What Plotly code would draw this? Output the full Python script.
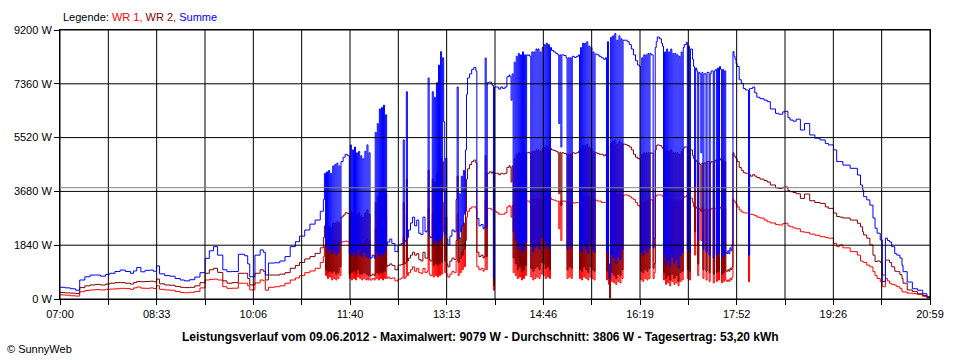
import plotly.graph_objects as go
import pandas as pd

DAY = "2012-06-09"

times = [
    # morning
    "07:00","07:05","07:10","07:15","07:19","07:24","07:29","07:34","07:39","07:44",
    "07:48","07:53","07:58","08:03","08:08","08:11","08:14","08:18","08:22","08:27",
    "08:30","08:33","08:36","08:41","08:46","08:51","08:56","09:00","09:05","09:10",
    "09:15","09:20","09:24","09:28","09:32","09:37","09:41","09:46","09:52","09:58",
    "10:01","10:03","10:08","10:13","10:16","10:18","10:21","10:27","10:32","10:37",
    "10:42","10:47","10:51","10:56","11:01","11:06","11:11","11:14",
    # cluster A
    "11:15","11:16","11:17","11:18","11:19","11:20","11:21","11:22","11:23","11:24",
    "11:25","11:26","11:27","11:28","11:29","11:30","11:31","11:33","11:35","11:37",
    # cluster B
    "11:39","11:40","11:41","11:42","11:43","11:44","11:45","11:46","11:47","11:48",
    "11:49","11:50","11:51","11:52","11:53","11:54","11:55","11:56","11:57","11:58",
    "11:59","12:01","12:03",
    "12:04","12:05","12:06","12:07","12:08","12:09","12:10","12:11","12:12","12:13","12:14","12:15",
    # midday
    "12:16","12:18","12:20","12:23","12:26","12:29","12:31","12:32","12:33","12:34",
    "12:35","12:36","12:38","12:40","12:42","12:44","12:46","12:48","12:50","12:52",
    "12:54","12:55","12:56","12:57","12:59","13:00","13:01","13:02","13:03","13:04",
    "13:05","13:06","13:07","13:08","13:09","13:10","13:11","13:12","13:13","13:14",
    "13:16","13:18","13:20","13:22","13:23","13:24","13:25","13:26","13:27","13:28",
    "13:29","13:30","13:31","13:32","13:33","13:35","13:37","13:39","13:41","13:42",
    "13:44","13:46","13:48","13:49","13:50","13:51","13:52","13:54","13:56","13:57",
    "13:58","13:59","14:01","14:03","14:05","14:07","14:09","14:11","14:13","14:14",
    "14:15","14:16","14:17","14:18","14:19",
    # afternoon clusters
    "14:20","14:21","14:22","14:23","14:24","14:25","14:26","14:27","14:28","14:29",
    "14:30","14:31","14:32","14:33","14:34","14:35","14:36","14:37","14:38","14:39",
    "14:40","14:41","14:42","14:43","14:44","14:45","14:46","14:47","14:48","14:49",
    "14:50","14:51","14:52","14:53","14:54","14:56","14:58","15:00","15:01","15:02",
    "15:03","15:04","15:06","15:08","15:09","15:10","15:11","15:12","15:13","15:14",
    "15:16","15:18","15:20","15:21","15:22","15:23","15:24","15:25","15:26","15:27",
    "15:28","15:29","15:30","15:31","15:32","15:33","15:34","15:35","15:36","15:38",
    "15:40","15:42","15:44","15:46","15:47","15:48","15:49","15:50","15:51","15:52",
    "15:53","15:54","15:55","15:56","15:57","15:58","15:59","16:00","16:01","16:02",
    "16:03","16:05","16:07","16:09","16:11","16:13","16:15","16:17","16:19",
    # late afternoon
    "16:20","16:21","16:22","16:23","16:24","16:25","16:26","16:27","16:28","16:29",
    "16:30","16:31","16:32","16:33","16:34","16:35","16:36","16:38","16:40","16:41",
    "16:42","16:43","16:44","16:45","16:46","16:47","16:48","16:49","16:50","16:51",
    "16:52","16:53","16:54","16:55","16:56","16:57","16:58","16:59","17:00","17:01",
    "17:02","17:04","17:05","17:06","17:07","17:08","17:10","17:11","17:12","17:13",
    "17:14","17:15","17:16","17:17","17:18","17:19",
    # last cluster
    "17:20","17:21","17:22","17:23","17:24","17:25","17:26","17:27","17:28","17:29",
    "17:30","17:31","17:32","17:33","17:34","17:35","17:36","17:37","17:38","17:39",
    "17:40","17:41","17:42","17:43","17:44","17:45","17:46","17:47","17:48","17:49",
    "17:50","17:51","17:52","17:53",
    # evening
    "17:55","17:57","17:59","18:01","18:03","18:04","18:05","18:06","18:08","18:10",
    "18:12","18:15","18:19","18:22","18:25","18:30","18:33","18:37","18:39","18:42",
    "18:44","18:47","18:50","18:54","18:58","19:03","19:08","19:13","19:18","19:21",
    "19:26","19:29","19:32","19:35","19:42","19:49","19:52","19:54","19:55","19:58",
    "20:01","20:04","20:06","20:08","20:11","20:13","20:16","20:18","20:20","20:22",
    "20:25","20:27","20:30","20:32","20:33","20:37","20:42","20:47","20:52","20:56",
    "20:59",
]

wr1 = [
    140,130,110,100,250,290,310,320,310,330,
    340,350,365,355,330,380,410,370,365,380,
    360,450,330,310,300,260,220,215,230,260,
    380,650,670,680,650,420,365,370,540,540,
    450,310,550,650,620,300,400,420,450,540,
    650,720,800,900,960,1050,1250,1450,
    1800,800,1900,700,1900,750,1850,650,1950,700,
    2000,650,2000,700,1950,800,1950,1960,1980,1970,
    700,2100,650,2000,700,2050,650,2000,750,2000,
    700,1950,650,1900,700,2000,650,2050,650,2000,
    650,700,650,
    2400,700,2600,650,2900,700,2900,650,2950,700,2800,700,
    750,700,720,620,680,720,2100,700,750,2900,
    800,900,1000,1100,950,1050,900,880,1050,900,
    950,3100,850,800,2900,750,2800,800,3000,750,
    3200,800,3400,850,3300,2300,900,1900,850,750,
    850,950,900,1300,2900,800,1400,900,1600,1000,
    1700,1100,2000,2800,3000,3100,3150,3150,3100,1100,
    1000,1050,950,1000,3400,1000,3100,3100,3050,3050,
    300,3000,2950,2900,2900,2900,2950,3150,3200,3150,
    2800,3200,900,3300,800,
    3350,700,3400,750,3350,650,3400,700,3350,800,
    3350,3350,3350,3300,750,3400,650,3400,700,3450,
    750,3450,700,3400,850,3450,800,3500,700,3500,
    750,3500,700,3450,3400,3380,3350,3350,2400,3350,
    2000,3350,3350,3300,700,3300,750,3300,700,3300,
    3280,3300,3300,700,3450,650,3500,750,3500,700,
    3500,650,3450,750,3450,700,3400,650,3380,3350,
    3350,3300,3300,3300,650,3550,500,650,3600,600,
    3600,550,3650,500,3550,600,3600,550,3550,700,
    3550,3560,3550,3500,3450,3400,3300,3200,3150,
    650,3300,600,3350,700,3350,650,3400,700,3400,
    3390,3380,700,900,3500,3550,3560,3560,3550,3500,
    650,3400,500,3450,550,3400,450,3450,600,3400,
    500,3400,550,3350,450,3350,600,3400,650,3450,
    3500,3550,700,3500,650,3450,3300,3150,1500,3150,
    3100,800,3100,3050,2000,3100,
    700,3050,3050,650,3050,3050,600,3050,3100,3100,
    550,3100,3100,600,3150,650,3150,3100,550,3100,
    600,3100,650,600,650,600,700,650,750,3400,
    3350,3300,3250,3150,
    3050,2980,2950,2940,2940,590,2900,2900,2880,2850,
    2800,2770,2700,2640,2600,2550,2530,2580,2590,2500,
    2470,2430,2400,2300,2280,2220,2180,2130,2100,2080,
    1900,1790,1850,1750,1620,1500,1300,1280,1250,1160,
    1100,935,800,700,600,420,700,620,540,500,
    470,420,350,250,240,200,180,150,90,40,
    20,
]

wr2 = [
    220,210,200,190,390,450,480,500,480,510,
    540,560,560,540,510,560,600,590,600,610,
    590,680,520,480,470,430,400,390,400,450,
    560,880,1000,1050,910,620,540,560,880,880,
    700,480,880,1000,950,650,820,820,850,900,
    1050,1150,1250,1370,1450,1560,1750,2100,
    2500,1000,2450,900,2500,950,2450,900,2600,950,
    2600,850,2650,900,2600,1100,2800,2870,2950,2930,
    850,3000,900,2950,950,3000,850,2900,1000,2950,
    850,2850,850,2800,900,2950,850,3050,800,2900,
    800,850,800,
    3300,900,3500,850,3700,900,3750,900,3800,950,3600,1100,
    1150,1200,1150,1000,1160,1180,3300,1200,1250,4100,
    1300,1400,1500,1600,1500,1550,1350,1300,1600,1400,
    1400,4400,1350,1300,4100,1150,4000,1200,4300,1150,
    4700,1200,4820,1250,4700,3700,1300,2800,1200,1100,
    1300,1400,1350,2000,4200,1250,2100,1400,2500,1500,
    2600,1700,3000,4100,4450,4600,4700,4750,4650,1600,
    1450,1500,1400,1450,4900,1450,4300,4350,4300,4350,
    450,4300,4300,4250,4300,4280,4300,4500,4560,4500,
    4000,4550,1400,4800,1200,
    4950,1000,5000,1100,4950,950,5050,1000,5000,1150,
    5000,5000,5020,4980,1050,5050,950,5050,1050,5100,
    1100,5100,1000,5050,1250,5150,1200,5200,1050,5250,
    1100,5200,1000,5150,5100,5080,5050,5000,3600,5020,
    3200,5000,4980,4950,1000,4950,1100,4950,1050,5000,
    4980,5000,5050,1000,5150,950,5250,1100,5250,1000,
    5300,900,5200,1100,5150,1000,5050,950,5000,4980,
    4950,4950,4900,4950,950,5250,700,30,5350,900,
    5400,800,5430,700,5300,850,5400,800,5350,1000,
    5300,5280,5250,5200,5100,4950,4850,4800,4780,
    950,4950,900,5000,1000,5000,950,5000,1050,5000,
    4990,4990,1050,1200,5100,5250,5270,5250,5200,5150,
    900,5050,700,5100,800,5050,650,5100,850,5000,
    700,5000,800,5000,600,4950,900,5050,950,5150,
    5200,5200,1000,5150,950,5100,4900,4800,2300,4750,
    4700,1200,4650,4600,3000,4650,
    1000,4650,4650,950,4700,4700,900,4650,4700,4700,
    850,4700,4750,900,4750,950,4800,4750,850,4750,
    900,4700,950,950,1000,950,1050,1000,1100,5000,
    4900,4850,4800,4700,
    4500,4400,4320,4300,4300,1500,4250,4200,4250,4200,
    4150,4100,4050,4000,3900,3800,3780,3820,3830,3700,
    3670,3640,3600,3440,3590,3360,3300,3270,3150,3100,
    2940,2820,2800,2770,2700,2590,2470,2300,2190,2080,
    1850,1500,1280,1300,1250,820,1330,1330,1250,1100,
    950,935,830,700,540,310,250,180,120,50,
    30,
]

summe = [
    400,380,350,300,650,760,820,820,780,840,
    880,940,990,940,880,960,1080,930,980,990,
    950,1130,860,800,780,700,650,620,660,750,
    900,1390,1650,1790,1500,1000,935,940,1530,1480,
    1200,760,1500,1680,1600,820,1230,1240,1300,1450,
    1790,1960,2150,2360,2560,2700,3000,3400,
    4300,1800,4350,1600,4400,1700,4300,1550,4550,1650,
    4600,1500,4650,1600,4550,1900,4700,4850,4950,4900,
    1550,5270,1500,5100,1600,5200,1450,5000,1700,5050,
    1500,4900,1450,4800,1600,5050,1450,5270,1400,5000,
    1400,1500,1400,
    5700,1600,6000,1450,6500,1550,6550,1500,6630,1600,6300,1850,
    1950,2050,1900,1620,1850,1900,5440,1950,2000,7090,
    2100,2360,2600,2800,2500,2700,2250,2200,2800,2300,
    2350,7560,2150,2100,7090,1900,6900,2000,7400,1900,
    8000,2000,8460,2100,8250,6060,2200,4820,2050,1850,
    2150,2360,2300,3400,7250,2050,3600,2300,4200,2500,
    4400,2900,5100,7000,7560,7700,7850,7920,7800,2750,
    2500,2550,2400,2450,8240,2450,7400,7420,7350,7300,
    720,7250,7250,7180,7250,7200,7250,7600,7660,7600,
    6800,7700,2300,8100,2000,
    8300,1700,8400,1850,8350,1600,8450,1700,8350,1950,
    8350,8330,8350,8300,1800,8450,1600,8450,1750,8550,
    1850,8550,1700,8450,2100,8600,2000,8700,1750,8750,
    1850,8700,1700,8600,8500,8450,8400,8350,6000,8350,
    5200,8350,8330,8250,1700,8250,1850,8250,1750,8300,
    8260,8300,8350,1700,8600,1600,8750,1850,8750,1700,
    8800,1550,8650,1850,8600,1700,8450,1600,8380,8350,
    8300,8250,8200,8250,1600,8800,1200,700,8950,1500,
    9000,1400,9079,1200,8850,1450,9000,1350,8900,1700,
    8850,8850,8800,8700,8550,8350,8150,8000,7950,
    1600,8250,1500,8350,1700,8350,1600,8400,1750,8400,
    8350,8350,1750,2080,8600,8800,8960,8900,8750,8650,
    1550,8450,1200,8550,1350,8450,1100,8550,1450,8400,
    1200,8400,1350,8350,1050,8300,1500,8450,1600,8600,
    8700,8780,1700,8650,1600,8550,8200,7950,3800,7900,
    7800,2000,7750,7700,5000,7750,
    1700,7700,7700,1600,7750,7750,1500,7700,7800,7800,
    1400,7800,7850,1500,7900,1600,7950,7850,1400,7850,
    1500,7800,1600,1550,1650,1550,1750,1650,1850,8460,
    8300,8200,8050,7950,
    7500,7380,7200,7150,7150,1500,7200,7200,7250,7050,
    6900,6850,6800,6750,6500,6350,6320,6400,6420,6200,
    6120,6080,6150,5780,6000,5610,5500,5440,5320,5270,
    5100,4700,4700,4580,4470,4240,3900,3730,3500,3390,
    3210,2770,2420,2250,2020,600,2080,2000,1950,1790,
    1550,1500,1400,1150,935,580,350,300,180,80,
    50,
]

assert len(times) == len(wr1) == len(wr2) == len(summe), (len(times), len(wr1), len(wr2), len(summe))

x_tick_labels = ["07:00", "08:33", "10:06", "11:40", "13:13",
                 "14:46", "16:19", "17:52", "19:26", "20:59"]
y_ticks = [0, 1840, 3680, 5520, 7360, 9200]
y_tick_labels = ["0 W", "1840 W", "3680 W", "5520 W", "7360 W", "9200 W"]
average_w = 3806
max_w = 9079
yield_kwh = "53,20"

FONT = "Liberation Sans, Arial, sans-serif"

x = pd.to_datetime([f"{DAY} {t}" for t in times])
start = pd.Timestamp(f"{DAY} 07:00")
end = pd.Timestamp(f"{DAY} 20:59")
tick_pos = list(pd.date_range(start, end, periods=2 * (len(x_tick_labels) - 1) + 1))
tick_text = [x_tick_labels[i // 2] if i % 2 == 0 else "" for i in range(len(tick_pos))]

fig = go.Figure()
# WR 1 and WR 2 first, Summe drawn on top (as in the reference); stepped like the logger data
series = [("WR 1", wr1, "#FF0000"), ("WR 2", wr2, "#800000"), ("Summe", summe, "#0000FF")]
for name, vals, color in series:
    fig.add_trace(go.Scatter(x=x, y=vals, mode="lines", name=name,
                             line=dict(color=color, width=1, shape="hv"), showlegend=False))

# grid drawn above the data, as in the reference
for tp in tick_pos:
    fig.add_shape(type="line", xref="x", x0=tp, x1=tp, yref="paper", y0=0, y1=1,
                  line=dict(color="black", width=1), layer="above")
for yv in y_ticks:
    fig.add_shape(type="line", xref="paper", x0=0, x1=1, yref="y", y0=yv, y1=yv,
                  line=dict(color="black", width=1), layer="above")
# average line
fig.add_shape(type="line", xref="paper", x0=0, x1=1, yref="y", y0=average_w, y1=average_w,
              line=dict(color="#808080", width=1), layer="above")

axis_common = dict(showgrid=False, ticks="outside", ticklen=5, tickcolor="black", tickwidth=1,
                   showline=True, linecolor="black", linewidth=1, mirror=True,
                   zeroline=False, tickfont=dict(family=FONT, size=11, color="black"))

fig.update_layout(
    width=960, height=360,
    margin=dict(l=60, r=30, t=30, b=61),
    paper_bgcolor="white", plot_bgcolor="white",
    font=dict(family=FONT, size=11, color="black"),
    showlegend=False,
    xaxis=dict(type="date", range=[start, end], tickmode="array",
               tickvals=tick_pos, ticktext=tick_text, **axis_common),
    yaxis=dict(range=[0, 9200], tickmode="array", tickvals=y_ticks,
               ticktext=y_tick_labels, **axis_common),
)

fig.add_annotation(
    xref="paper", yref="paper", x=(61 - 60) / 870, y=(299 - 17) / 269,
    xanchor="left", yanchor="middle", showarrow=False,
    text="Legende: <span style='color:#FF0000'>WR 1,</span> "
         "<span style='color:#800000'>WR 2,</span> "
         "<span style='color:#0000FF'>Summe</span>",
    font=dict(family=FONT, size=11, color="black"))

fig.add_annotation(
    xref="paper", yref="paper", x=(480 - 60) / 870, y=(299 - 337) / 269,
    xanchor="center", yanchor="middle", showarrow=False,
    text=f"<b>Leistungsverlauf vom 09.06.2012 - Maximalwert: {max_w} W - "
         f"Durchschnitt: {average_w} W - Tagesertrag: {yield_kwh} kWh</b>",
    font=dict(family=FONT, size=12, color="black"))

fig.add_annotation(
    xref="paper", yref="paper", x=(5 - 60) / 870, y=(299 - 349) / 269,
    xanchor="left", yanchor="middle", showarrow=False,
    text="© SunnyWeb",
    font=dict(family=FONT, size=11, color="black"))

fig.write_html("out.html", config={"displayModeBar": False},
               post_script="document.body.style.margin='0px';")
